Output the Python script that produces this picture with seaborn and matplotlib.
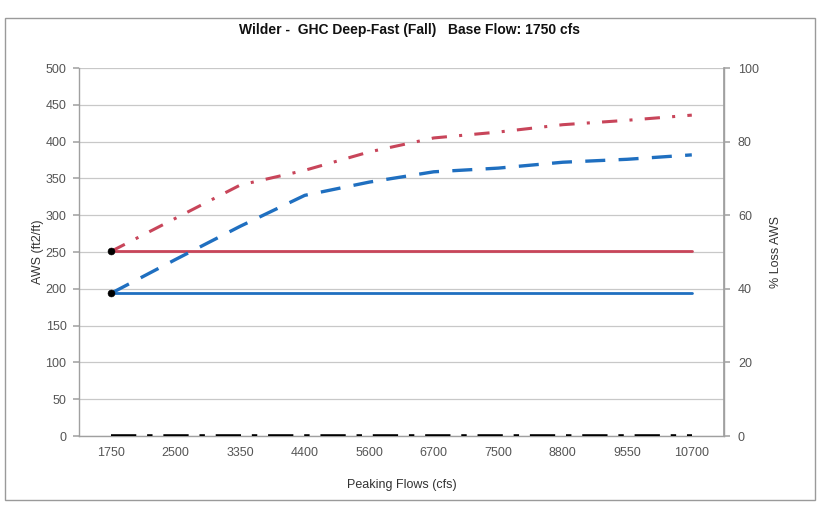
import pandas as pd
import matplotlib
matplotlib.use("Agg")
import matplotlib.pyplot as plt
import seaborn as sns
from matplotlib.patches import Rectangle

# data
flows = ["1750", "2500", "3350", "4400", "5600", "6700", "7500", "8800", "9550", "10700"]
aws_red_base = [251] * 10
aws_blue_base = [194] * 10
aws_red_peak = [251, 296, 341, 361, 386, 405, 413, 423, 429, 436]
aws_blue_peak = [194, 240, 285, 327, 345, 359, 364, 372, 376, 382]
loss_pct = [0] * 10

RED = "#c8455a"
BLUE = "#1f6fc0"


def main():
    sns.set_theme(style="white")
    plt.rcParams["font.family"] = ["Liberation Sans", "DejaVu Sans"]

    df = pd.DataFrame({
        "flow": flows,
        "red_base": aws_red_base,
        "blue_base": aws_blue_base,
        "red_peak": aws_red_peak,
        "blue_peak": aws_blue_peak,
        "loss": loss_pct,
    })

    fig = plt.figure(figsize=(8.2, 5.05), dpi=100)
    fig.patches.append(Rectangle((0.006, 0.01), 0.988, 0.955, transform=fig.transFigure,
                                 fill=False, edgecolor="#9a9a9a", linewidth=1.0))
    ax = fig.add_axes([0.0963, 0.1366, 0.7867, 0.7287])

    sns.lineplot(data=df, x="flow", y="red_base", ax=ax, color=RED, linewidth=2.0)
    sns.lineplot(data=df, x="flow", y="blue_base", ax=ax, color=BLUE, linewidth=2.0)
    sns.lineplot(data=df, x="flow", y="red_peak", ax=ax, color=RED, linewidth=2.2,
                 linestyle=(0, (5, 4, 1, 4)))
    sns.lineplot(data=df, x="flow", y="blue_peak", ax=ax, color=BLUE, linewidth=2.4,
                 linestyle=(0, (6, 4)))
    first = df.iloc[[0]]
    sns.scatterplot(data=first, x="flow", y="red_base", ax=ax, color="black", s=25,
                    edgecolor="black", zorder=5)
    sns.scatterplot(data=first, x="flow", y="blue_base", ax=ax, color="black", s=25,
                    edgecolor="black", zorder=5)

    ax.set_xlim(-0.5, len(flows) - 0.5)
    ax.set_ylim(0, 500)
    ax.set_yticks(range(0, 501, 50))
    ax.grid(axis="y", color="#c8c8c8", linewidth=0.9)
    ax.set_axisbelow(True)
    ax.set_xlabel("Peaking Flows (cfs)", fontsize=9, color="#333333", labelpad=14)
    ax.set_ylabel("AWS (ft2/ft)", fontsize=9, color="#333333", labelpad=1)
    ax.tick_params(axis="both", labelsize=9, colors="#555555", length=0, pad=5)
    ax.tick_params(axis="x", pad=8)
    ax.set_xticks([i - 0.5 for i in range(len(flows) + 1)], minor=True)
    ax.tick_params(axis="x", which="minor", length=4, color="#aaaaaa", direction="out")
    ax.tick_params(axis="y", length=4, color="#aaaaaa", direction="out")
    for s in ax.spines.values():
        s.set_color("#a0a0a0")
        s.set_linewidth(1.0)
    ax.spines["top"].set_visible(False)

    ax2 = ax.twinx()
    sns.lineplot(data=df, x="flow", y="loss", ax=ax2, color="black", linewidth=2.6,
                 linestyle=(0, (7, 3, 1.5, 3)))
    ax2.set_ylim(0, 100)
    ax2.set_yticks(range(0, 101, 20))
    ax2.set_ylabel("% Loss AWS", fontsize=9, color="#333333", labelpad=8)
    ax2.tick_params(axis="y", labelsize=9, colors="#555555", length=4, color="#aaaaaa", pad=6)
    for s in ax2.spines.values():
        s.set_visible(False)
    ax2.spines["right"].set_visible(True)
    ax2.spines["right"].set_color("#a0a0a0")

    fig.text(0.5, 0.94, "Wilder -  GHC Deep-Fast (Fall)   Base Flow: 1750 cfs",
             ha="center", va="center", fontsize=10, fontweight="bold", color="#111111")

    fig.savefig("out.png", dpi=100)


if __name__ == "__main__":
    main()
